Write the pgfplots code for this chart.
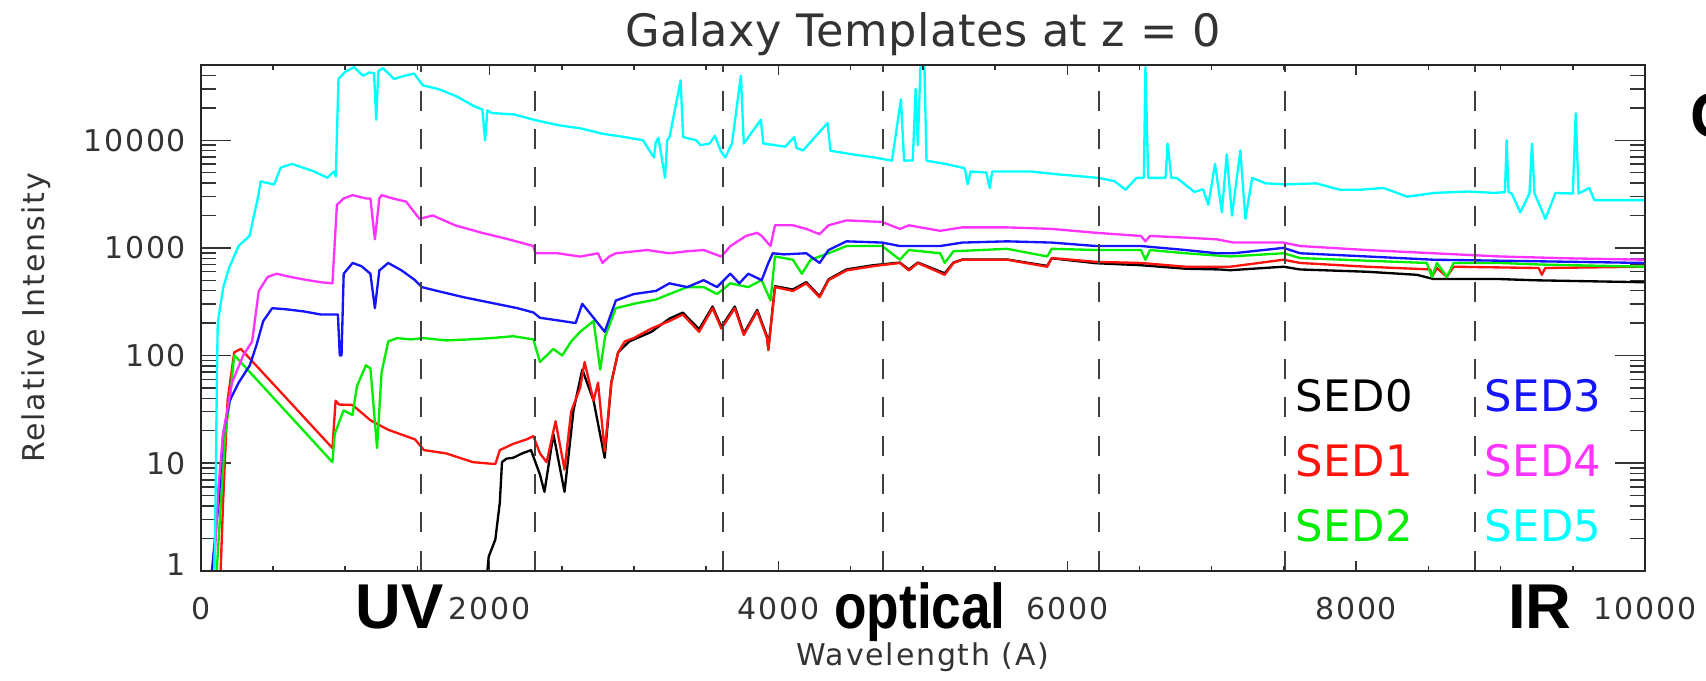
\documentclass[border=0pt]{standalone}
\usepackage{fontspec}
\setmainfont{DejaVu Sans}
\newfontfamily\idl[LetterSpace=6]{DejaVu Sans}
\newfontfamily\idlt[LetterSpace=1]{DejaVu Sans}
\newfontfamily\lab{Liberation Sans}
\usepackage{pgfplots}
\usepackage{pgfplotstable}
\pgfplotsset{compat=1.18}
\definecolor{cSEDzero}{rgb}{0,0,0}
\definecolor{cSEDone}{rgb}{1,0.08,0.05}
\definecolor{cSEDtwo}{rgb}{0,0.93,0}
\definecolor{cSEDthree}{rgb}{0.08,0.08,1}
\definecolor{cSEDfour}{rgb}{1,0.2,1}
\definecolor{cSEDfive}{rgb}{0,1,1}

\pgfplotstableread{
x y
1969 0.9
1985 1
1994 1.35
2040 1.95
2071 4.3
2086 10.2
2117 11
2164 11.2
2225 12.3
2287 13.2
2349 7.8
2380 5.4
2442 18.6
2519 5.4
2581 30.9
2642 74
2720 38
2797 11.2
2843 56
2890 107
2967 135
3121 166
3245 220
3338 250
3451 175
3544 285
3605 185
3698 285
3760 160
3853 265
3921 150
3930 115
3976 440
4100 410
4193 480
4285 355
4347 510
4471 630
4656 690
4841 730
4903 630
4965 730
5151 580
5212 730
5274 780
5583 780
5861 680
5892 800
6201 720
6510 690
6819 640
7058 630
7128 620
7497 668
7612 630
8074 600
8420 562
8536 513
8997 513
9228 500
10000 479
}\sedzero

\pgfplotstableread{
x y
130 0.9
138 1
155 4.3
186 38
232 107
278 115
912 13.8
934 38
958 35
1051 34.7
1175 25
1298 20.4
1484 16.6
1546 13.2
1700 12.3
1885 10.2
2040 9.8
2071 13.2
2164 15.1
2256 16.6
2303 17.8
2349 12.3
2395 10.2
2457 24.5
2519 8.7
2565 30.2
2627 50
2658 87
2720 38
2751 56
2797 12.9
2843 56
2890 107
2936 135
2998 145
3121 178
3245 209
3338 240
3451 166
3544 275
3605 178
3698 275
3760 155
3853 257
3921 145
3930 112
3976 432
4100 398
4193 468
4285 347
4347 501
4471 617
4656 676
4841 724
4903 617
4965 724
5151 562
5212 724
5274 776
5583 776
5861 668
5892 804
6201 741
6510 724
6819 668
7128 668
7497 776
7612 724
8074 668
8513 630
8524 537
8559 650
8628 537
8674 668
9263 650
9286 562
9309 650
10000 668
}\sedone

\pgfplotstableread{
x y
105 0.9
111 1
140 4.3
170 18.6
201 38
232 100
250 95
912 10.2
928 18.6
958 24
989 30.9
1051 28
1082 52
1144 81
1175 76
1221 13.8
1252 69
1298 135
1360 145
1453 141
1546 145
1700 138
1855 141
2009 145
2164 151
2303 141
2349 87
2442 115
2503 100
2565 135
2627 166
2720 209
2766 74
2800 150
2874 275
2998 302
3152 331
3245 372
3369 432
3482 432
3575 372
3667 468
3791 432
3884 501
3945 324
3976 832
4100 776
4162 575
4223 776
4347 891
4471 1040
4718 1040
4841 776
4903 955
5120 891
5151 724
5212 930
5583 980
5861 832
5892 980
6201 955
6510 955
6541 776
6572 955
6819 891
7128 832
7497 891
7612 804
8074 760
8489 724
8524 537
8559 724
8628 537
8674 724
8997 724
9274 700
10000 668
}\sedtwo

\pgfplotstableread{
x y
78 1
93 1.66
124 4.3
155 18.6
201 38
263 56
340 81
387 126
433 209
495 275
588 269
711 257
835 240
950 240
963 100
975 100
990 575
1052 724
1113 676
1175 575
1206 275
1237 617
1298 724
1391 617
1484 501
1530 432
1638 398
1824 347
2009 309
2194 275
2303 251
2349 224
2503 209
2596 200
2642 302
2720 224
2797 166
2874 324
2998 372
3152 398
3245 468
3369 432
3482 501
3575 432
3667 575
3729 468
3791 575
3884 501
3930 724
3961 891
4038 870
4193 891
4285 724
4347 955
4471 1150
4718 1120
4841 1040
5120 1040
5274 1120
5583 1150
5892 1120
6201 1040
6510 1040
6819 955
7035 891
7151 891
7497 1000
7612 891
8074 832
8536 776
8997 760
10000 724
}\sedthree

\pgfplotstableread{
x y
93 1.07
124 6.2
155 18.6
217 56
294 100
356 135
402 398
464 537
526 575
619 537
742 501
835 479
912 468
943 2510
990 2880
1052 3090
1144 2880
1175 2880
1206 1200
1237 2880
1252 3090
1329 2880
1422 2690
1515 1860
1607 2000
1762 1620
1947 1380
2133 1200
2303 1040
2318 890
2473 890
2627 830
2750 890
2782 724
2828 830
2874 890
3091 955
3245 890
3369 930
3482 955
3605 830
3667 1038
3775 1290
3853 1380
3884 1290
3945 1040
3976 1620
4100 1620
4193 1500
4285 1340
4347 1620
4471 1800
4718 1740
4841 1500
4903 1620
5120 1440
5274 1550
5583 1550
5892 1500
6201 1380
6510 1290
6541 1150
6572 1290
6819 1245
7035 1200
7151 1120
7497 1120
7612 1040
8074 955
8536 891
8997 832
9459 800
10000 776
}\sedfour

\pgfplotstableread{
x y
95 1
105 8
112 60
118 200
156 430
200 670
262 1040
338 1290
400 3100
415 4150
508 3880
554 5570
631 6030
785 5130
877 4480
923 5130
935 4600
954 37150
1000 43150
1062 47860
1123 39800
1169 42660
1200 42000
1215 15500
1230 44000
1262 46770
1338 37150
1415 39800
1477 41690
1538 32360
1646 29900
1769 25700
1892 20750
1950 19320
1969 10000
1985 19000
2015 17900
2169 17380
2308 15490
2477 13800
2631 12880
2785 11480
2938 10700
3062 10000
3138 6920
3150 9500
3169 10500
3215 4470
3230 10000
3246 10700
3323 36000
3340 10700
3431 10000
3460 9000
3524 9330
3560 11000
3600 8000
3632 6920
3678 9330
3740 39800
3760 9330
3878 15490
3895 9330
4047 8710
4109 10700
4125 8500
4170 8040
4340 14450
4360 8000
4509 7410
4663 6920
4786 6460
4848 24000
4870 6460
4930 6500
4950 30000
4965 9000
4985 56000
5010 56000
5025 6460
5156 6030
5290 5500
5310 3890
5330 5130
5440 5000
5463 3600
5480 5130
5741 5130
5957 4790
6218 4470
6326 4170
6403 3470
6480 4470
6530 4470
6541 47860
6560 4470
6680 4470
6695 9330
6720 4470
6757 4470
6880 3310
6940 3500
6976 2510
7023 6030
7070 2140
7104 7410
7140 1990
7198 8040
7233 1860
7280 4470
7373 3980
7513 3890
7723 3980
7887 3470
8027 3470
8190 3600
8353 2990
8540 3240
8774 3340
8960 3240
9030 3300
9042 10000
9055 3300
9077 3200
9136 2140
9200 3200
9217 9330
9235 3200
9310 1860
9380 3240
9500 3200
9520 17800
9540 3200
9614 3600
9649 2780
10000 2780
}\sedfive

\pgfplotsset{
  frame/.style={
    at={(60.21pt,32.79pt)}, anchor=south west,
    scale only axis, width=433.3pt, height=151.7pt,
    xmin=0, xmax=10000,
    axis line style={black!85, line width=0.6pt},
    tick style={black!80, line width=0.45pt},
  },
}

\begin{document}
\begin{tikzpicture}[x=1pt,y=1pt]
\useasboundingbox (0,0) rectangle (511.8,204);

\begin{axis}[frame,
  ymode=log, ymin=1, ymax=50000,
  xtick=\empty,
  ytick={1,10,100,1000,10000},
  yticklabels={\raisebox{3.5pt}{1},10,100,1000,10000},
  minor ytick={2,3,4,5,6,7,8,9,20,30,40,50,60,70,80,90,200,300,400,500,600,700,800,900,2000,3000,4000,5000,6000,7000,8000,9000,20000,30000,40000},
  major tick length=9pt, minor tick length=4.5pt,
  yticklabel style={font=\fontsize{9}{10}\selectfont\idl, inner sep=0pt, xshift=-4.2pt, text=black!80},
  ylabel={Relative Intensity},
  every axis y label/.style={at={(axis description cs:-0.108,0.5)}, rotate=90, anchor=base, inner sep=0pt, font=\fontsize{9}{10}\selectfont\idl, text=black!80},
  title={Galaxy Templates at z = 0},
  every axis title/.style={at={(axis description cs:0.5,1)}, anchor=base, yshift=5.7pt, inner sep=0pt, font=\fontsize{13.4}{15}\selectfont\idlt, text=black!80},
  clip=true,
  every axis plot/.append style={line width=0.7pt, line join=round},
]
\addplot[cSEDzero] table[x=x,y=y] {\sedzero};
\addplot[cSEDone] table[x=x,y=y] {\sedone};
\addplot[cSEDtwo] table[x=x,y=y] {\sedtwo};
\addplot[cSEDthree] table[x=x,y=y] {\sedthree};
\addplot[cSEDfour] table[x=x,y=y] {\sedfour};
\addplot[cSEDfive] table[x=x,y=y] {\sedfive};
\pgfplotsinvokeforeach{1525,2315,3619,4723,6216,7509,8825}{
  \addplot[black!75, line width=0.6pt, dash pattern=on 6pt off 5.5pt] coordinates {(#1,1) (#1,50000)};
}
\end{axis}

\begin{axis}[frame,
  ymin=0, ymax=1, ytick=\empty,
  scaled x ticks=false, scaled y ticks=false,
  xtick={0,2000,4000,6000,8000,10000},
  xticklabels={0,2000,4000,6000,8000,10000},
  minor x tick num=3,
  major tick length=3pt, minor tick length=1.5pt,
  xticklabel style={font=\fontsize{9}{10}\selectfont\idl, inner sep=0pt, yshift=-7.9pt, text=black!80},
  xlabel={Wavelength (A)},
  every axis x label/.style={at={(axis description cs:0.5,0)}, anchor=base, yshift=-28.3pt, inner sep=0pt, font=\fontsize{9}{10}\selectfont\idl, text=black!80},
]
\end{axis}

\begin{scope}[every node/.style={inner sep=0pt, anchor=base west, font=\fontsize{13}{15}\selectfont\idlt}]
\node[text=cSEDzero] at (388.5,80.5) {SED0};
\node[text=cSEDone] at (388.5,61.0) {SED1};
\node[text=cSEDtwo] at (388.5,41.5) {SED2};
\node[text=cSEDthree] at (445.1,80.5) {SED3};
\node[text=cSEDfour] at (445.1,61.0) {SED4};
\node[text=cSEDfive] at (445.1,41.5) {SED5};
\end{scope}

\begin{scope}[every node/.style={inner sep=0pt, anchor=base, font=\fontsize{19}{21}\selectfont\lab\bfseries}]
\node at (119.9,15.5) {UV};
\node at (276.0,15.5) {\scalebox{0.84}[1]{optical}};
\node at (462.0,15.5) {IR};
\node[anchor=base west] at (507.0,162.6) {C};
\end{scope}
\end{tikzpicture}
\end{document}
